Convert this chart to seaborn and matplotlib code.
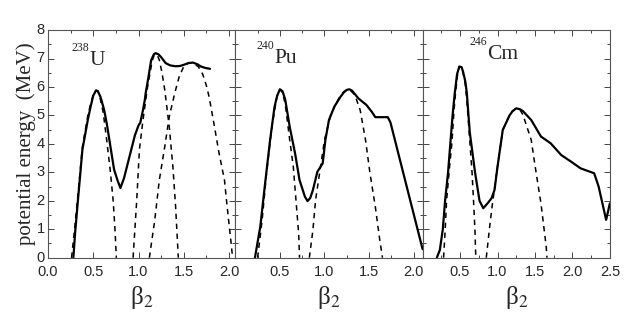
import numpy as np
import pandas as pd
import seaborn as sns
import matplotlib.pyplot as plt
import matplotlib.transforms as mtransforms
from matplotlib.ticker import MultipleLocator

# ---- data ----
# 238U
u_beta = [0.28, 0.30, 0.33, 0.38, 0.44, 0.47, 0.50, 0.53, 0.55, 0.58, 0.62, 0.65, 0.68, 0.73,
          0.77, 0.80, 0.84, 0.90, 0.96, 1.00, 1.02, 1.05, 1.07, 1.08, 1.11, 1.14, 1.17, 1.19,
          1.22, 1.25, 1.30, 1.35, 1.41, 1.46, 1.50, 1.55, 1.60, 1.65, 1.69, 1.74, 1.79]
u_energy = [0.0, 0.9, 2.0, 3.8, 4.85, 5.3, 5.7, 5.88, 5.86, 5.65, 5.2, 4.7, 4.1, 3.1,
            2.7, 2.45, 2.8, 3.55, 4.3, 4.65, 4.75, 5.2, 5.55, 5.8, 6.35, 6.95, 7.15, 7.19,
            7.15, 7.05, 6.84, 6.76, 6.73, 6.74, 6.78, 6.84, 6.86, 6.8, 6.72, 6.67, 6.64]
u_arc1_beta = [0.26, 0.29, 0.33, 0.38, 0.44, 0.47, 0.50, 0.53, 0.55, 0.57, 0.61, 0.65, 0.69,
               0.72, 0.74, 0.755]
u_arc1_energy = [0.0, 0.9, 2.2, 3.9, 5.0, 5.4, 5.72, 5.88, 5.85, 5.7, 5.1, 4.1, 3.0,
                 2.0, 1.0, 0.0]
u_arc2_beta = [0.94, 0.96, 0.98, 1.01, 1.05, 1.10, 1.15, 1.17, 1.19, 1.21, 1.23, 1.26, 1.29,
               1.34, 1.38, 1.41, 1.44]
u_arc2_energy = [0.0, 1.0, 2.0, 3.8, 4.85, 6.0, 6.9, 7.1, 7.15, 7.1, 6.95, 6.5, 5.9,
                 4.6, 3.2, 1.8, 0.0]
u_arc3_beta = [1.12, 1.18, 1.23, 1.29, 1.34, 1.40, 1.45, 1.50, 1.55, 1.60, 1.66, 1.71, 1.75,
               1.78, 1.84, 1.89, 1.95, 1.98, 2.02, 2.04]
u_arc3_energy = [0.0, 1.33, 2.73, 3.9, 4.96, 5.78, 6.37, 6.72, 6.84, 6.84, 6.72, 6.45, 6.05,
                 5.66, 4.6, 3.68, 2.73, 1.79, 0.62, 0.0]

# 240Pu
pu_beta = [0.22, 0.28, 0.33, 0.39, 0.44, 0.47, 0.50, 0.53, 0.56, 0.61, 0.67, 0.72, 0.78, 0.81,
           0.84, 0.87, 0.92, 0.98, 1.01, 1.05, 1.11, 1.18, 1.22, 1.25, 1.28, 1.31, 1.38, 1.47,
           1.53, 1.57, 1.64, 1.71, 1.74, 2.10]
pu_energy = [0.0, 1.09, 2.5, 4.14, 5.31, 5.7, 5.92, 5.85, 5.55, 4.6, 3.67, 2.73, 2.15, 1.99,
             2.1, 2.38, 3.02, 3.32, 4.14, 4.84, 5.31, 5.66, 5.82, 5.9, 5.92, 5.87, 5.6, 5.37,
             5.13, 4.94, 4.94, 4.94, 4.75, 0.3]
pu_arc1_beta = [0.25, 0.30, 0.35, 0.41, 0.46, 0.48, 0.50, 0.53, 0.56, 0.61, 0.65, 0.68, 0.71,
                0.72]
pu_arc1_energy = [0.0, 1.3, 2.97, 4.6, 5.55, 5.8, 5.92, 5.8, 5.4, 4.14, 3.2, 2.03, 0.86, 0.0]
pu_arc2_beta = [0.83, 0.87, 0.90, 0.95, 1.00, 1.07, 1.16, 1.21, 1.25, 1.30, 1.34, 1.40, 1.46,
                1.51, 1.57, 1.62, 1.65]
pu_arc2_energy = [0.0, 0.97, 2.03, 3.08, 4.14, 5.02, 5.6, 5.82, 5.9, 5.85, 5.72, 5.19, 4.14,
                  2.97, 1.79, 0.62, 0.0]

# 246Cm
cm_beta = [0.19, 0.23, 0.27, 0.30, 0.34, 0.37, 0.40, 0.43, 0.46, 0.49, 0.52, 0.54, 0.57, 0.59,
           0.63, 0.70, 0.76, 0.81, 0.87, 0.92, 0.96, 1.00, 1.07, 1.16, 1.20, 1.25, 1.30, 1.34,
           1.45, 1.58, 1.71, 1.85, 1.98, 2.11, 2.29, 2.35, 2.42, 2.45, 2.50]
cm_energy = [0.0, 0.27, 1.0, 2.0, 3.0, 4.0, 5.0, 5.8, 6.45, 6.72, 6.7, 6.54, 6.2, 5.8,
             4.4, 3.0, 2.0, 1.74, 1.92, 2.09, 2.38, 3.2, 4.49, 5.0, 5.15, 5.25, 5.22, 5.15,
             4.84, 4.26, 4.02, 3.61, 3.38, 3.14, 2.97, 2.5, 1.68, 1.33, 1.91]
cm_arc1_beta = [0.28, 0.30, 0.32, 0.36, 0.39, 0.42, 0.44, 0.47, 0.49, 0.52, 0.54, 0.57, 0.59,
                0.63, 0.66, 0.68, 0.70, 0.71]
cm_arc1_energy = [0.0, 0.9, 2.0, 3.2, 4.0, 5.2, 5.8, 6.5, 6.72, 6.7, 6.5, 6.1, 5.55,
                  4.1, 3.0, 2.0, 0.9, 0.0]
cm_arc2_beta = [0.85, 0.90, 0.93, 1.00, 1.07, 1.16, 1.20, 1.25, 1.30, 1.34, 1.45, 1.51, 1.58,
                1.65, 1.66]
cm_arc2_energy = [0.0, 1.2, 1.85, 3.2, 4.49, 5.0, 5.15, 5.25, 5.2, 5.02, 4.14, 3.08, 1.91,
                  0.39, 0.0]

# nucleus labels: mass number, element
mass = ["238", "240", "246"]
element = ["U", "Pu", "Cm"]

panels = [
    (2.07, (u_beta, u_energy),
     [(u_arc1_beta, u_arc1_energy), (u_arc2_beta, u_arc2_energy), (u_arc3_beta, u_arc3_energy)],
     (0.26, 6.78)),
    (2.1, (pu_beta, pu_energy),
     [(pu_arc1_beta, pu_arc1_energy), (pu_arc2_beta, pu_arc2_energy)],
     (0.24, 6.85)),
    (2.5, (cm_beta, cm_energy),
     [(cm_arc1_beta, cm_arc1_energy), (cm_arc2_beta, cm_arc2_energy)],
     (0.63, 6.99)),
]

sns.set_style("ticks")
plt.rcParams["font.family"] = ["Liberation Sans", "DejaVu Sans"]
plt.rcParams["mathtext.fontset"] = "stix"
plt.rcParams["xtick.direction"] = "in"
plt.rcParams["ytick.direction"] = "in"

fig, axes = plt.subplots(1, 3, figsize=(6.32, 3.17), dpi=100)
fig.subplots_adjust(left=0.076, right=0.965, top=0.905, bottom=0.187, wspace=0)

for i, (ax, (xmax, solid, arcs, lab)) in enumerate(zip(axes, panels)):
    for b, e in arcs:
        sns.lineplot(x=b, y=e, ax=ax, color="black", lw=1.1, sort=False,
                     estimator=None, linestyle=(0, (3.5, 3.0)))
    sns.lineplot(x=solid[0], y=solid[1], ax=ax, color="black", lw=1.6,
                 sort=False, estimator=None)
    ax.set_xlim(0, xmax)
    ax.set_ylim(0, 8)
    ax.xaxis.set_major_locator(MultipleLocator(0.5))
    ax.xaxis.set_minor_locator(MultipleLocator(0.25))
    ax.yaxis.set_major_locator(MultipleLocator(1))
    ax.yaxis.set_minor_locator(MultipleLocator(0.5))
    ax.tick_params(which="both", top=True, right=True, color="#444444")
    ax.tick_params(which="major", length=4, width=0.7, labelsize=10.5)
    ax.tick_params(axis="x", which="major", pad=5.5)
    ax.tick_params(axis="y", which="major", pad=2.5)
    ax.tick_params(which="minor", length=2.5, width=0.7)
    for s in ax.spines.values():
        s.set_color("#555555")
        s.set_linewidth(0.8)
    if i == 0:
        ax.set_xticks([0.0, 0.5, 1.0, 1.5, 2.0])
        ax.set_ylabel("potential energy  (MeV)", fontsize=15,
                      family="Liberation Serif", labelpad=0.5)
        # nudge the y tick labels up a touch so "0" clears "0.0"
        up = mtransforms.ScaledTranslation(0, 1.2 / 72, fig.dpi_scale_trans)
        for t in ax.get_yticklabels():
            t.set_transform(t.get_transform() + up)
    else:
        ax.set_xticks([0.5, 1.0, 1.5, 2.0] + ([2.5] if xmax >= 2.5 else []))
        ax.set_yticklabels([])
    ax.set_xlabel("β$_2$", fontsize=18, family="Liberation Serif", labelpad=3)
    # mass number as a small raised text, element symbol after it
    ax.text(lab[0], lab[1] + 0.5, mass[i], fontsize=8.5, family="Liberation Serif",
            va="baseline")
    ax.annotate(element[i], xy=lab, xytext=(12.8, 0), textcoords="offset points",
                fontsize=15.5, family="Liberation Serif", va="baseline")

fig.savefig("out.png", dpi=100)
